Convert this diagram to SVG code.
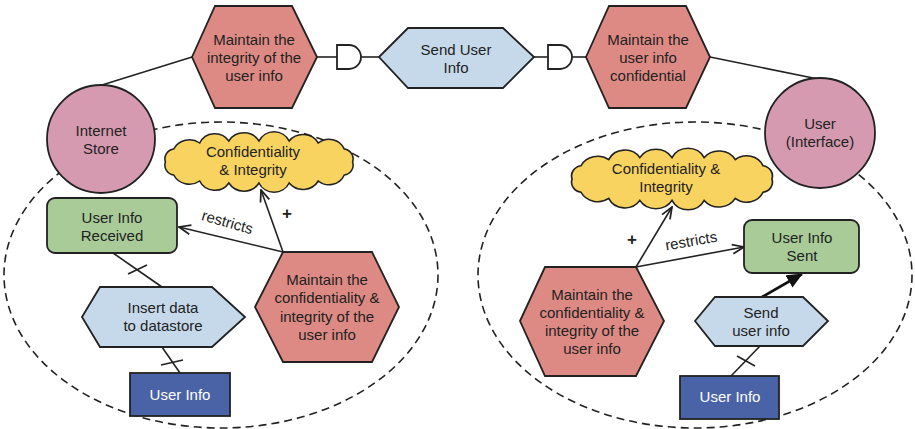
<svg xmlns="http://www.w3.org/2000/svg" width="915" height="429" viewBox="0 0 915 429">
<style>
text{font-family:"Liberation Sans",Arial,sans-serif;font-size:15px;fill:#222;text-anchor:middle}
.lbl{font-size:15px}
.plus{font-size:17px;font-weight:bold}
.w{fill:#fff}
.red{fill:#de8a84;stroke:#222;stroke-width:1.8}
.blue{fill:#c6d9ea;stroke:#222;stroke-width:1.8}
.green{fill:#a8cb98;stroke:#222;stroke-width:1.8}
.pink{fill:#d59ab0;stroke:#222;stroke-width:1.8}
.dark{fill:#4a63a6;stroke:#222;stroke-width:1.8}
.cloud{fill:#f9d35f;stroke:#222;stroke-width:1.5}
.gate{fill:#fff;stroke:#222;stroke-width:1.8}
.ln{fill:none;stroke:#222;stroke-width:1.6}
.dash{fill:none;stroke:#222;stroke-width:1.6;stroke-dasharray:8 5}
.arr{marker-end:url(#open)}
.bold{fill:none;stroke:#111;stroke-width:2.6;marker-end:url(#solid)}
</style>
<defs>
<marker id="open" markerUnits="userSpaceOnUse" markerWidth="14" markerHeight="14" refX="11" refY="5" orient="auto" viewBox="0 0 12 10">
<path d="M1,1 L11,5 L1,9" fill="none" stroke="#222" stroke-width="1.5"/>
</marker>
<marker id="solid" markerUnits="userSpaceOnUse" markerWidth="16" markerHeight="14" refX="15" refY="7" orient="auto" viewBox="0 0 16 14">
<path d="M0,0 L16,7 L0,14 Z" fill="#111"/>
</marker>
<path id="cloudShape" d="M-90,0 A10,10 0 0 1 -82,-13 A17,17 0 0 1 -57,-19 A16,16 0 0 1 -29,-21 A17,17 0 0 1 0,-21 A16,16 0 0 1 29,-21 A17,17 0 0 1 57,-19 A16,16 0 0 1 82,-13 A10,10 0 0 1 90,0 A10,10 0 0 1 82,13 A16,16 0 0 1 57,19 A17,17 0 0 1 29,21 A16,16 0 0 1 0,21 A17,17 0 0 1 -29,21 A16,16 0 0 1 -57,19 A17,17 0 0 1 -82,13 A10,10 0 0 1 -90,0 Z"/>
</defs>
<rect width="915" height="429" fill="#fff"/>

<g id="boundaries">
<ellipse class="dash" cx="221" cy="275" rx="217" ry="153"/>
<ellipse class="dash" cx="695" cy="275" rx="217" ry="153"/>
</g>

<g id="connectors">
<line class="ln" x1="102" y1="85" x2="192" y2="57"/>
<line class="ln" x1="710" y1="57" x2="818" y2="79"/>
<line class="ln" x1="317" y1="57" x2="337" y2="57"/>
<line class="ln" x1="361" y1="57" x2="379" y2="57"/>
<line class="ln" x1="534" y1="57" x2="548" y2="57"/>
<line class="ln" x1="572" y1="57" x2="586" y2="57"/>
<line class="ln arr" x1="283" y1="252" x2="261" y2="190"/>
<line class="ln arr" x1="283" y1="252" x2="179" y2="227"/>
<line class="ln" x1="113" y1="253" x2="162" y2="287"/>
<line class="ln" x1="128" y1="274" x2="147" y2="265"/>
<line class="ln" x1="162" y1="347" x2="180" y2="373"/>
<line class="ln" x1="161" y1="365" x2="183" y2="360"/>
<line class="ln arr" x1="636" y1="267" x2="672" y2="207"/>
<line class="ln arr" x1="636" y1="267" x2="744" y2="247"/>
<line class="bold" x1="762" y1="297" x2="802" y2="274"/>
<line class="ln" x1="731" y1="376" x2="760" y2="346"/>
<line class="ln" x1="737" y1="356" x2="755" y2="366"/>
<text class="plus" x="287" y="219">+</text>
<text class="plus" x="632" y="245">+</text>
<text class="lbl" transform="translate(226,227) rotate(16)">restricts</text>
<text class="lbl" transform="translate(692,246) rotate(-10)">restricts</text>
</g>

<g id="n-integrity">
<polygon class="red" points="192,57 215,6 292,6 317,57 292,108 215,108"/>
<text x="254" y="45">Maintain the</text>
<text x="254" y="63">integrity of the</text>
<text x="254" y="81">user info</text>
</g>
<g id="n-gate1"><path class="gate" d="M337,45 H349 A12,12 0 0 1 349,69 H337 Z"/></g>
<g id="n-send-top">
<polygon class="blue" points="379,57 408,28 503,28 534,57 503,88 408,88"/>
<text x="456" y="55">Send User</text>
<text x="456" y="73">Info</text>
</g>
<g id="n-gate2"><path class="gate" d="M548,45 H560 A12,12 0 0 1 560,69 H548 Z"/></g>
<g id="n-confidential">
<polygon class="red" points="586,57 609,6 686,6 710,57 686,108 609,108"/>
<text x="648" y="45">Maintain the</text>
<text x="648" y="63">user info</text>
<text x="648" y="81">confidential</text>
</g>
<g id="n-internet-store">
<circle class="pink" cx="101" cy="139" r="54"/>
<text x="101" y="136">Internet</text>
<text x="101" y="154">Store</text>
</g>
<g id="n-user-interface">
<circle class="pink" cx="820" cy="133" r="55"/>
<text x="820" y="129">User</text>
<text x="820" y="147">(Interface)</text>
</g>

<g id="n-cloud-left">
<use href="#cloudShape" class="cloud" transform="translate(259,162) scale(1.04,1.0)"/>
<text x="253" y="157">Confidentiality</text>
<text x="253" y="175">&amp; Integrity</text>
</g>
<g id="n-received">
<rect class="green" x="47" y="198" width="130" height="55" rx="8"/>
<text x="112" y="223">User Info</text>
<text x="112" y="241">Received</text>
</g>
<g id="n-insert">
<polygon class="blue" points="82,317 100,287 212,287 245,317 212,347 100,347"/>
<text x="163" y="313">Insert data</text>
<text x="163" y="331">to datastore</text>
</g>
<g id="n-userinfo-left">
<rect class="dark" x="130" y="373" width="100" height="43"/>
<text class="w" x="180" y="400">User Info</text>
</g>
<g id="n-maintain-left">
<polygon class="red" points="255,307 283,252 372,252 399,307 372,362 283,362"/>
<text x="327" y="285">Maintain the</text>
<text x="327" y="303">confidentiality &amp;</text>
<text x="327" y="322">integrity of the</text>
<text x="327" y="340">user info</text>
</g>

<g id="n-cloud-right">
<use href="#cloudShape" class="cloud" transform="translate(672,179) scale(1.11,1.02)"/>
<text x="666" y="174">Confidentiality &amp;</text>
<text x="666" y="192">Integrity</text>
</g>
<g id="n-sent">
<rect class="green" x="744" y="220" width="115" height="53" rx="8"/>
<text x="802" y="243">User Info</text>
<text x="802" y="261">Sent</text>
</g>
<g id="n-maintain-right">
<polygon class="red" points="520,321 545,267 636,267 664,321 636,376 545,376"/>
<text x="592" y="300">Maintain the</text>
<text x="592" y="318">confidentiality &amp;</text>
<text x="592" y="336">integrity of the</text>
<text x="592" y="354">user info</text>
</g>
<g id="n-send-right">
<polygon class="blue" points="695,321 715,297 803,297 828,321 803,346 715,346"/>
<text x="761" y="318">Send</text>
<text x="761" y="336">user info</text>
</g>
<g id="n-userinfo-right">
<rect class="dark" x="680" y="376" width="99" height="43"/>
<text class="w" x="730" y="402">User Info</text>
</g>
</svg>
